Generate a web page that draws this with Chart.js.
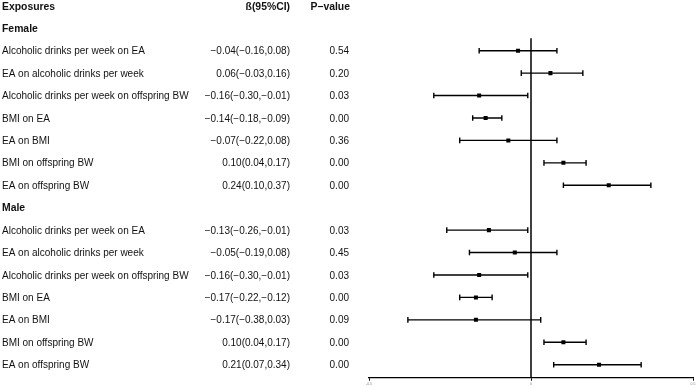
<!DOCTYPE html>
<html>
<head>
<meta charset="utf-8">
<script src="https://cdn.jsdelivr.net/npm/chart.js@4/dist/chart.umd.min.js"></script>
<style>
  html, body { margin: 0; padding: 0; background: #ffffff; }
  #wrap { width: 699px; height: 389px; position: relative; }
</style>
</head>
<body>
<div id="wrap"><canvas id="c" width="699" height="389"></canvas></div>
<script>
// ---- data ----
const exposures = [
  "Alcoholic drinks per week on EA",
  "EA on alcoholic drinks per week",
  "Alcoholic drinks per week on offspring BW",
  "BMI on EA",
  "EA on BMI",
  "BMI on offspring BW",
  "EA on offspring BW"
];
const femaleBeta = [-0.04, 0.06, -0.16, -0.14, -0.07, 0.10, 0.24];
const femaleLow  = [-0.16, -0.03, -0.30, -0.18, -0.22, 0.04, 0.10];
const femaleHigh = [0.08, 0.16, -0.01, -0.09, 0.08, 0.17, 0.37];
const femaleP    = ["0.54", "0.20", "0.03", "0.00", "0.36", "0.00", "0.00"];
const maleBeta = [-0.13, -0.05, -0.16, -0.17, -0.17, 0.10, 0.21];
const maleLow  = [-0.26, -0.19, -0.30, -0.22, -0.38, 0.04, 0.07];
const maleHigh = [-0.01, 0.08, -0.01, -0.12, 0.03, 0.17, 0.34];
const maleP    = ["0.03", "0.45", "0.03", "0.00", "0.09", "0.00", "0.00"];
const groupNames = ["Female", "Male"];
const headers = ["Exposures", "ß(95%CI)", "P\u2212value"];
const xTicks = [-0.5, 0, 0.5];

// ---- build rows ----
const groups = [
  { name: groupNames[0], beta: femaleBeta, low: femaleLow, high: femaleHigh, p: femaleP },
  { name: groupNames[1], beta: maleBeta, low: maleLow, high: maleHigh, p: maleP }
];
const rows = [];
let r = 1;
groups.forEach(g => {
  rows.push({ row: r++, kind: "group", name: g.name });
  exposures.forEach((e, i) => {
    rows.push({ row: r++, kind: "item", name: e, beta: g.beta[i], low: g.low[i], high: g.high[i], p: g.p[i] });
  });
});
const items = rows.filter(d => d.kind === "item");

const fmt = v => v.toFixed(2).replace("-", "\u2212");

const datasets = [];
datasets.push({
  label: "estimate",
  data: items.map(d => ({ x: d.beta, y: d.row })),
  pointStyle: "rect",
  pointRadius: 2.85,
  pointBackgroundColor: "#000",
  pointBorderWidth: 0,
  showLine: false
});
items.forEach(d => {
  datasets.push({
    label: "ci",
    data: [{ x: d.low, y: d.row }, { x: d.high, y: d.row }],
    showLine: true,
    borderColor: "#000",
    borderWidth: 1.4,
    pointStyle: "line",
    pointRotation: 90,
    pointRadius: 2.8,
    pointBorderWidth: 1.4,
    pointBorderColor: "#000",
    fill: false
  });
});
datasets.push({
  label: "zero",
  data: [{ x: 0, y: 1.45 }, { x: 0, y: 17 }],
  showLine: true,
  borderColor: "#000",
  borderWidth: 1.5,
  pointRadius: 0,
  fill: false
});

const textPlugin = {
  id: "tableText",
  afterDraw(chart) {
    const ctx = chart.ctx;
    const ys = chart.scales.y;
    const Y = (row, off) => ys.getPixelForValue(row) + off;
    ctx.save();
    ctx.fillStyle = "#111";
    ctx.textBaseline = "alphabetic";
    ctx.font = 'bold 10.4px "Liberation Sans", Arial, sans-serif';
    ctx.textAlign = "left";
    ctx.fillText(headers[0], 2, Y(0, 3.7));
    ctx.textAlign = "right";
    ctx.fillText(headers[1], 290, Y(0, 3.7));
    ctx.fillText(headers[2], 350, Y(0, 3.7));
    rows.forEach(d => {
      if (d.kind === "group") {
        ctx.font = 'bold 10.4px "Liberation Sans", Arial, sans-serif';
        ctx.textAlign = "left";
        ctx.fillText(d.name, 2, Y(d.row, 3.7));
      } else {
        ctx.font = '10px "Liberation Sans", Arial, sans-serif';
        ctx.textAlign = "left";
        ctx.fillText(d.name, 2, Y(d.row, 3.6));
        ctx.textAlign = "right";
        ctx.fillText(fmt(d.beta) + "(" + fmt(d.low) + "," + fmt(d.high) + ")", 290, Y(d.row, 3.6));
        ctx.fillText(d.p, 349, Y(d.row, 3.6));
      }
    });
    ctx.restore();
  }
};

new Chart(document.getElementById("c"), {
  type: "scatter",
  data: { datasets },
  options: {
    responsive: false,
    animation: false,
    devicePixelRatio: 1,
    layout: { autoPadding: false, padding: { left: 369, right: 6, top: 0, bottom: 0 } },
    plugins: { legend: { display: false }, tooltip: { enabled: false } },
    scales: {
      x: {
        type: "linear",
        min: -0.5,
        max: 0.5,
        afterBuildTicks: s => { s.ticks = xTicks.map(v => ({ value: v })); },
        afterFit: s => { s.height = 11.3; },
        border: { display: true, color: "#000", width: 1.3 },
        grid: { display: true, drawOnChartArea: false, drawTicks: true, tickLength: 3, color: "#000", lineWidth: 1 },
        ticks: {
          autoSkip: false,
          maxRotation: 0,
          padding: 1,
          color: "#888",
          font: { size: 3.5, family: '"Liberation Sans", Arial, sans-serif' },
          callback: v => String(v)
        }
      },
      y: {
        type: "linear",
        reverse: true,
        min: -0.26,
        max: 16.58,
        display: false
      }
    }
  },
  plugins: [textPlugin]
});
</script>
</body>
</html>
